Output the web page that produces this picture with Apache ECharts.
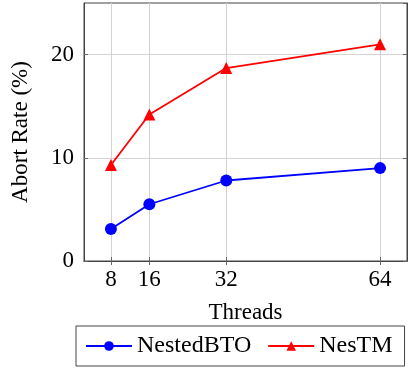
<!DOCTYPE html>
<html>
<head>
<meta charset="utf-8">
<script src="https://cdn.jsdelivr.net/npm/echarts@6/dist/echarts.min.js"></script>
<style>
  html, body { margin: 0; padding: 0; background: #fff; }
  #chart { width: 409px; height: 371px; }
</style>
</head>
<body>
<div id="chart"></div>
<script>
// thread counts on the x axis
var threads = [8, 16, 32, 64];
// abort rate (%) per series
var nestedBTO = [3.1, 5.5, 7.8, 9.0];
var nesTM = [9.3, 14.2, 18.7, 21.0];
var seriesNames = ['NestedBTO', 'NesTM'];

var font = 'Liberation Serif';

function pairs(xs, ys) {
    return xs.map(function (x, i) { return [x, ys[i]]; });
}

var chart = echarts.init(document.getElementById('chart'));

var xCommon = {
    type: 'value',
    min: 2.4,
    max: 69.6,
    axisLine: { show: true, lineStyle: { color: '#444', width: 1 } },
    axisTick: { show: true, inside: true, length: 4, customValues: threads, lineStyle: { color: '#666' } },
    splitLine: { show: false }
};
var yCommon = {
    type: 'value',
    min: 0,
    max: 25,
    interval: 10,
    axisLine: { show: true, lineStyle: { color: '#444', width: 1 } },
    axisTick: { show: true, inside: true, length: 4, lineStyle: { color: '#666' } },
    splitLine: { show: false }
};

var option = {
    animation: false,
    textStyle: { fontFamily: font },
    grid: {
        left: 84, right: 2, top: 3, bottom: 110,
        outerBoundsMode: 'none',
        show: true, borderColor: '#444', borderWidth: 1
    },
    xAxis: [
        Object.assign({}, xCommon, {
            position: 'bottom',
            name: 'Threads',
            nameLocation: 'middle',
            nameGap: 40,
            nameTextStyle: { fontFamily: font, fontSize: 23, color: '#000' },
            axisLabel: { customValues: threads, fontFamily: font, fontSize: 23, color: '#000', margin: 7 },
            splitLine: { show: true, lineStyle: { color: '#d3d3d3', width: 1 } }
        }),
        Object.assign({}, xCommon, {
            position: 'top',
            axisLabel: { show: false }
        })
    ],
    yAxis: [
        Object.assign({}, yCommon, {
            position: 'left',
            name: 'Abort Rate (%)',
            nameLocation: 'middle',
            nameGap: 52,
            nameTextStyle: { fontFamily: font, fontSize: 23, color: '#000' },
            axisLabel: { fontFamily: font, fontSize: 23, color: '#000', margin: 10, showMaxLabel: false },
            splitLine: { show: true, showMaxLine: false, lineStyle: { color: '#d3d3d3', width: 1 } }
        }),
        Object.assign({}, yCommon, {
            position: 'right',
            axisLabel: { show: false }
        })
    ],
    legend: {
        left: 76,
        top: 326,
        width: 310,
        orient: 'horizontal',
        borderColor: '#444',
        borderWidth: 1,
        borderRadius: 0,
        padding: [8, 12, 8, 9],
        itemGap: 16,
        itemWidth: 46,
        itemHeight: 12,
        textStyle: { fontFamily: font, fontSize: 24, color: '#000' },
        data: seriesNames
    },
    series: [
        {
            name: seriesNames[0],
            type: 'line',
            data: pairs(threads, nestedBTO),
            symbol: 'circle',
            symbolSize: 12,
            lineStyle: { color: '#0000ff', width: 1.8 },
            itemStyle: { color: '#0000ff' }
        },
        {
            name: seriesNames[1],
            type: 'line',
            data: pairs(threads, nesTM),
            symbol: 'triangle',
            symbolSize: 12,
            lineStyle: { color: '#ff0000', width: 1.8 },
            itemStyle: { color: '#ff0000' }
        }
    ]
};

chart.setOption(option);
</script>
</body>
</html>
